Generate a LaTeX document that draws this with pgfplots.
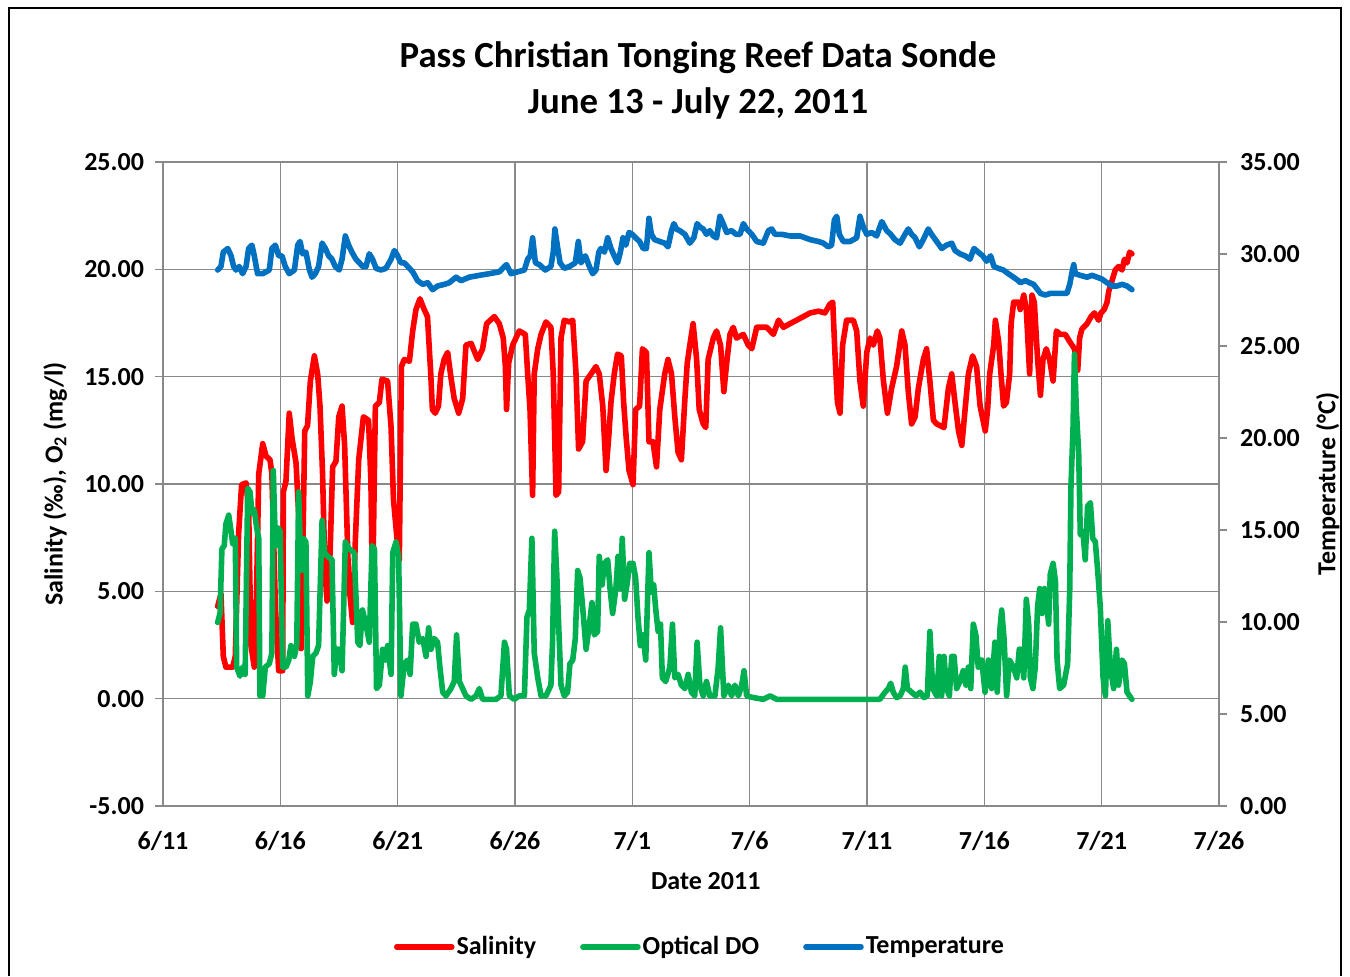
\documentclass[border=0pt]{standalone}
\usepackage{fontspec}
\setmainfont{Carlito}
\usepackage{pgfplots}
\pgfplotsset{compat=1.18}
\definecolor{sal}{RGB}{255,0,0}
\definecolor{dox}{RGB}{0,176,80}
\definecolor{tmp}{RGB}{0,112,192}
\definecolor{gridc}{RGB}{137,137,137}
\newcommand{\lblfont}{\fontsize{13}{15}\selectfont\bfseries}
\begin{document}
\begin{tikzpicture}
\path[use as bounding box] (0pt,0pt) rectangle (675pt,488pt);
\draw[line width=1.1pt] (4.5pt,0pt) -- (4.5pt,484pt) -- (670.5pt,484pt) -- (670.5pt,0pt);
\node[align=center,font=\fontsize{18.4}{23}\selectfont\bfseries] at (349pt,448pt) {Pass Christian Tonging Reef Data Sonde\\June 13 - July 22, 2011};
\begin{axis}[
  at={(81.5pt,85pt)}, anchor=south west,
  scale only axis, width=528pt, height=322pt,
  xmin=0, xmax=45, ymin=-5, ymax=25,
  xtick={0,5,...,45},
  xticklabels={6/11,6/16,6/21,6/26,7/1,7/6,7/11,7/16,7/21,7/26},
  ytick={-5,0,...,25},
  axis lines*=left,
  axis line style={gridc, line width=0.75pt},
  grid=major, major grid style={gridc, line width=0.75pt},
  tick align=outside, major tick length=4pt,
  tick style={gridc, line width=0.75pt},
  xtick style={draw=none},
  /pgf/number format/fixed, /pgf/number format/fixed zerofill, /pgf/number format/precision=2, /pgf/number format/assume math mode=true,
  ticklabel style={font=\lblfont},
  yticklabel style={xshift=-2pt},
  xticklabel style={yshift=-5pt},
  xlabel={Date 2011}, ylabel={Salinity (‰), O\textsubscript{2} (mg/l)},
  label style={font=\lblfont},
  xlabel style={at={(axis description cs:0.514,-0.117)}, anchor=center},
  ylabel style={at={(axis description cs:-0.102,0.5)}, anchor=center},
  legend columns=3,
  legend style={draw=none, at={(0.5085,-0.219)}, anchor=center, font=\lblfont,
    /tikz/every even column/.append style={column sep=21pt}, nodes={inner sep=1pt}},
  legend image code/.code={\draw[#1, line width=2.8pt] (0pt,0pt) -- (27.5pt,0pt);},
  every axis plot/.append style={line width=2.8pt, line join=round, line cap=round},
]
\addplot[sal] coordinates {
(2.33,4.3)(2.47,4.88)(2.57,1.97)(2.68,1.47)(2.97,1.47)(3.08,1.97)(3.22,7.63)(3.35,9.97)(3.54,10.05)(3.65,8.8)(3.75,2.47)(3.89,1.47)(3.99,5.13)(4.08,10.47)(4.25,11.88)(4.39,11.3)(4.56,11.13)(4.64,10.47)(4.79,4.3)(4.93,1.3)(5.1,1.3)(5.13,9.63)(5.24,10.13)(5.38,13.3)(5.5,12.13)(5.67,10.97)(5.78,8.63)(5.89,2.33)(6.04,12.47)(6.16,12.72)(6.28,14.8)(6.45,15.97)(6.59,15.13)(6.69,13.63)(6.8,10.47)(6.9,5.97)(6.99,4.55)(7.12,6.8)(7.23,10.8)(7.37,11.05)(7.49,13.13)(7.63,13.63)(7.74,11.8)(7.91,5.47)(8.08,3.55)(8.2,7.47)(8.34,11.13)(8.54,13.13)(8.76,12.97)(8.86,10.13)(8.93,4.8)(9.05,13.63)(9.22,13.8)(9.33,14.88)(9.57,14.8)(9.72,12.63)(9.82,9.3)(9.97,7.47)(10.07,6.47)(10.16,15.47)(10.28,15.8)(10.5,15.72)(10.64,17.13)(10.78,18.13)
(10.95,18.63)(11.13,18.13)(11.27,17.8)(11.41,15.13)(11.48,13.47)(11.6,13.3)(11.74,13.63)(11.84,15.13)(11.98,15.8)(12.13,16.13)(12.27,14.97)(12.41,13.97)(12.6,13.3)(12.77,13.97)(12.91,16.47)(13.13,16.55)(13.41,15.8)(13.62,16.3)(13.79,17.47)(14.12,17.8)(14.33,17.47)(14.5,16.8)(14.59,15.47)(14.64,13.47)(14.73,15.63)(14.9,16.47)(15.18,17.13)(15.44,16.97)(15.54,15.13)(15.64,13.47)(15.75,9.47)(15.82,15.13)(15.97,16.3)(16.11,16.97)(16.32,17.55)(16.53,17.3)(16.63,15.13)(16.75,9.47)(16.86,9.63)(16.96,16.8)(17.1,17.63)(17.32,17.55)(17.46,17.63)(17.6,15.13)(17.71,11.63)(17.88,11.97)(18.03,14.8)(18.24,15.13)(18.45,15.47)(18.59,15.13)(18.74,13.63)(18.88,10.63)(18.99,12.13)(19.09,13.8)(19.23,15.13)(19.37,16.05)
(19.53,15.97)(19.63,13.8)(19.74,12.13)(19.86,10.63)(20.03,9.97)(20.14,13.47)(20.31,13.63)(20.43,16.3)(20.6,16.13)(20.71,11.97)(20.88,11.97)(21.03,10.8)(21.17,13.47)(21.38,15.13)(21.52,15.8)(21.67,15.13)(21.81,13.13)(21.95,11.47)(22.09,11.13)(22.24,13.97)(22.34,15.63)(22.45,16.47)(22.59,17.47)(22.74,15.8)(22.85,13.47)(23.02,12.8)(23.13,12.63)(23.23,15.8)(23.45,16.8)(23.59,17.13)(23.76,16.47)(23.9,14.3)(24.02,15.63)(24.16,16.97)(24.3,17.3)(24.44,16.8)(24.73,16.97)(24.94,16.47)(25.09,16.3)(25.3,17.3)(25.73,17.3)(26.01,16.97)(26.23,17.63)(26.44,17.3)(26.72,17.47)(27.0,17.63)(27.29,17.8)(27.58,17.97)(27.93,18.05)
(28.21,17.97)(28.42,18.38)(28.54,18.47)(28.64,15.97)(28.74,13.8)(28.85,13.3)(28.96,16.47)(29.13,17.63)(29.42,17.63)(29.56,17.13)(29.7,14.8)(29.84,13.63)(29.99,16.13)(30.13,16.8)(30.27,16.47)(30.44,17.13)(30.55,16.8)(30.7,14.8)(30.87,13.3)(31.05,14.47)(31.26,15.47)(31.48,17.13)(31.62,16.47)(31.76,14.3)(31.9,12.8)(32.05,13.13)(32.19,14.47)(32.4,15.8)(32.54,16.3)(32.68,14.8)(32.83,12.97)(32.97,12.8)(33.11,12.72)(33.28,12.63)(33.47,14.47)(33.61,15.13)(33.75,13.8)(33.9,12.47)(34.04,11.8)(34.18,13.47)(34.32,15.13)(34.5,15.97)(34.67,15.47)(34.82,13.63)
(35.04,12.47)(35.14,13.47)(35.23,15.13)(35.4,16.47)(35.47,17.63)(35.61,16.63)(35.71,15.13)(35.82,13.63)(35.94,13.8)(36.08,15.13)(36.14,17.47)(36.25,18.47)(36.46,18.47)(36.53,18.13)(36.68,18.8)(36.79,18.13)(36.93,15.13)(37.03,18.8)(37.13,18.47)(37.27,15.8)(37.39,14.13)(37.5,15.8)(37.64,16.3)(37.78,15.8)(37.93,14.8)(38.07,17.13)(38.24,16.97)(38.45,16.97)(38.64,16.63)(38.84,16.3)(38.98,15.3)(39.06,16.8)(39.16,17.22)(39.38,17.47)(39.55,17.8)(39.69,17.97)(39.87,17.63)(39.97,17.97)(40.11,18.13)(40.23,18.47)(40.3,18.97)(40.44,19.47)(40.58,19.97)(40.72,20.13)(40.87,19.97)(40.97,20.47)(41.08,20.3)(41.19,20.8)(41.29,20.72)
};
\addlegendentry{Salinity}
\addplot[dox] coordinates {
(2.33,3.55)(2.43,3.97)(2.51,6.97)(2.61,7.13)(2.68,8.13)(2.8,8.55)(2.9,7.8)(2.97,7.22)(3.08,7.47)(3.14,1.47)(3.28,1.05)(3.39,1.47)(3.5,1.13)(3.61,9.8)(3.71,9.63)(3.79,8.63)(3.89,8.8)(3.99,7.97)(4.08,7.47)(4.13,0.13)(4.25,0.13)(4.36,1.47)(4.53,1.63)(4.64,2.13)(4.7,10.63)(4.79,7.13)(4.89,7.97)(4.99,7.8)(5.1,1.47)(5.24,1.47)(5.36,1.8)(5.45,2.47)(5.6,1.97)(5.7,2.47)(5.78,9.63)(5.88,5.97)(5.98,7.47)(6.09,7.3)(6.17,0.13)(6.28,0.8)(6.38,1.97)(6.52,2.13)(6.63,2.47)(6.78,8.3)(6.88,6.8)(7.02,6.63)(7.2,6.47)(7.3,1.13)(7.4,2.3)(7.51,2.3)(7.63,1.3)(7.77,7.3)(7.94,6.97)(8.15,6.8)(8.3,2.63)(8.39,2.47)(8.5,4.13)(8.65,3.47)(8.79,2.63)(8.91,7.13)(9.01,6.97)(9.1,0.47)(9.22,0.63)(9.36,2.3)(9.47,1.8)(9.57,2.47)(9.72,1.13)(9.79,6.8)(9.93,7.3)(10.04,6.63)(10.14,0.13)(10.28,1.63)(10.43,1.8)(10.53,1.13)(10.64,3.47)(10.78,3.47)
(10.92,2.63)(11.07,2.8)(11.21,1.97)(11.32,3.3)(11.42,2.3)(11.56,2.8)(11.7,2.63)(11.8,1.47)(11.92,0.3)(12.06,0.13)(12.27,0.47)(12.41,0.8)(12.51,2.97)(12.63,0.8)(12.77,0.47)(12.91,0.13)(13.13,-0.03)(13.34,0.13)(13.48,0.47)(13.62,-0.03)(13.91,-0.03)(14.19,-0.03)(14.4,0.13)(14.55,2.63)(14.64,2.3)(14.76,0.13)(14.97,-0.03)(15.18,0.13)(15.4,0.13)(15.51,3.8)(15.61,4.13)(15.72,7.47)(15.82,2.13)(15.97,0.97)(16.11,0.13)(16.32,0.13)(16.53,0.63)(16.6,2.63)(16.69,7.8)(16.78,5.8)(16.86,3.47)(16.96,0.63)(17.1,0.13)(17.24,0.3)(17.34,1.63)(17.46,1.8)(17.57,2.8)(17.67,5.97)(17.77,5.63)(17.88,4.3)(18.03,2.3)(18.17,3.47)(18.28,4.47)(18.38,2.97)(18.52,3.13)(18.59,6.63)(18.71,5.3)(18.81,6.3)(18.95,6.47)(19.05,5.13)(19.16,3.97)(19.3,5.13)
(19.39,6.63)(19.49,5.13)(19.57,7.47)(19.67,4.63)(19.77,5.3)(19.89,6.3)(20.03,6.3)(20.14,5.63)(20.24,3.8)(20.34,2.47)(20.46,2.97)(20.57,1.8)(20.71,6.8)(20.81,4.97)(20.91,5.3)(21.0,4.13)(21.1,3.13)(21.2,3.47)(21.28,0.97)(21.42,0.8)(21.6,1.47)(21.71,3.47)(21.81,0.97)(21.95,1.13)(22.09,0.63)(22.24,0.47)(22.38,1.13)(22.52,0.3)(22.66,0.13)(22.76,2.63)(22.88,0.63)(23.02,0.13)(23.16,0.8)(23.3,0.13)(23.52,0.13)(23.66,1.47)(23.76,3.3)(23.9,0.13)(24.09,0.63)(24.23,0.13)(24.37,0.63)(24.52,0.13)(24.66,0.63)(24.76,1.3)(24.87,0.13)(25.16,0.05)(25.58,-0.03)(25.87,0.13)(26.15,-0.03)(28.0,-0.03)(30.55,-0.03)
(30.77,0.3)(30.91,0.47)(31.01,0.72)(31.12,0.3)(31.26,0.05)(31.41,0.13)(31.55,0.47)(31.63,1.47)(31.72,0.47)(31.9,0.3)(32.09,0.13)(32.26,0.3)(32.43,0.05)(32.57,0.13)(32.68,3.13)(32.8,0.47)(32.97,0.13)(33.08,1.97)(33.18,0.13)(33.28,1.97)(33.39,0.47)(33.51,0.13)(33.61,1.97)(33.71,1.97)(33.82,0.47)(33.96,0.8)(34.1,1.3)(34.22,0.63)(34.32,1.47)(34.42,0.47)(34.53,3.47)(34.64,2.97)(34.74,1.47)(34.89,1.8)(35.03,0.3)(35.17,1.8)(35.31,0.47)(35.45,2.63)(35.55,0.3)(35.67,3.3)(35.74,4.13)(35.84,2.8)(35.95,0.13)(36.07,1.8)(36.24,1.47)(36.38,0.97)
(36.49,2.3)(36.56,2.3)(36.68,0.97)(36.79,4.63)(36.89,3.47)(36.96,0.97)(37.07,0.47)(37.17,1.47)(37.27,4.3)(37.36,5.13)(37.46,3.97)(37.56,5.13)(37.67,4.3)(37.74,3.47)(37.81,5.8)(37.93,6.3)(38.03,5.47)(38.1,1.8)(38.21,0.47)(38.38,0.63)(38.55,1.63)(38.64,5.13)(38.69,9.8)(38.78,12.63)(38.84,16.05)(38.92,13.47)(39.02,11.47)(39.09,7.63)(39.2,7.8)(39.3,6.47)(39.4,8.97)(39.52,9.13)(39.62,7.47)(39.73,7.3)(39.83,5.97)(39.94,4.3)(40.06,0.97)(40.16,0.13)(40.26,3.63)(40.37,1.47)(40.51,0.47)(40.63,2.3)(40.72,0.63)(40.87,1.8)(40.97,1.63)(41.08,0.3)(41.29,-0.03)
};
\addlegendentry{Optical DO}
\addlegendimage{tmp}
\addlegendentry{Temperature}
\end{axis}
\begin{axis}[
  at={(81.5pt,85pt)}, anchor=south west,
  scale only axis, width=528pt, height=322pt,
  xmin=0, xmax=45, ymin=0, ymax=35,
  ytick={0,5,...,35},
  axis x line=none, axis y line*=right,
  axis line style={gridc, line width=0.75pt},
  tick align=outside, major tick length=4pt,
  tick style={gridc, line width=0.75pt},
  /pgf/number format/fixed, /pgf/number format/fixed zerofill, /pgf/number format/precision=2, /pgf/number format/assume math mode=true,
  ticklabel style={font=\lblfont},
  yticklabel style={xshift=3pt},
  ylabel={Temperature (°C)},
  label style={font=\lblfont},
  ylabel style={at={(axis description cs:1.103,0.5)}, anchor=center},
  every axis plot/.append style={line width=2.8pt, line join=round, line cap=round},
]
\addplot[tmp] coordinates {
(2.33,29.13)(2.47,29.32)(2.57,30.10)(2.76,30.30)(2.9,29.90)(3.01,29.32)(3.11,29.13)(3.25,29.32)(3.39,28.93)(3.54,29.32)(3.65,30.30)(3.79,30.48)(3.89,29.90)(4.03,28.93)(4.25,28.93)(4.53,29.13)(4.64,30.30)(4.79,30.48)(4.93,29.90)(5.07,29.90)(5.21,29.32)(5.38,28.93)(5.6,29.13)(5.74,30.48)(5.84,30.68)(5.95,30.01)(6.09,30.10)(6.24,29.13)(6.35,28.74)(6.49,28.93)(6.63,29.32)(6.78,30.59)(6.92,30.30)(7.06,29.90)(7.2,29.72)(7.34,29.32)(7.51,29.13)(7.63,29.72)(7.77,30.98)(7.91,30.48)(8.05,30.10)(8.22,29.72)(8.37,29.52)(8.51,29.32)(8.65,29.32)(8.79,30.01)(8.93,29.72)(9.08,29.22)(9.29,29.13)(9.5,29.22)(9.72,29.72)(9.86,30.19)(10.0,29.90)(10.14,29.52)(10.28,29.52)(10.43,29.32)(10.64,29.03)(10.85,28.55)
(11.07,28.35)(11.28,28.44)(11.49,28.06)(11.7,28.26)(11.99,28.35)(12.2,28.44)(12.49,28.74)(12.7,28.55)(13.05,28.74)(13.48,28.84)(13.91,28.93)(14.33,29.03)(14.55,29.32)(14.64,29.42)(14.83,28.93)(15.11,29.03)(15.4,29.13)(15.54,29.72)(15.65,29.90)(15.75,30.88)(15.87,29.52)(16.04,29.42)(16.29,29.13)(16.53,29.32)(16.63,30.10)(16.7,31.36)(16.8,30.48)(16.92,29.52)(17.1,29.22)(17.32,29.32)(17.57,29.52)(17.7,30.68)(17.81,29.52)(18.0,29.90)(18.17,29.32)(18.31,28.93)(18.45,29.13)(18.57,30.10)(18.66,30.30)(18.81,30.10)(18.95,30.88)(19.09,30.30)(19.23,29.90)(19.37,29.52)
(19.49,30.10)(19.6,30.88)(19.72,30.48)(19.86,31.17)(20.0,31.07)(20.14,30.88)(20.31,30.68)(20.46,30.30)(20.6,30.30)(20.71,31.94)(20.81,31.07)(20.95,30.78)(21.17,30.68)(21.38,30.59)(21.52,30.39)(21.67,31.27)(21.77,31.65)(21.88,31.36)(22.02,31.27)(22.24,31.07)(22.45,30.59)(22.62,30.88)(22.76,31.65)(22.88,31.47)(23.02,31.36)(23.16,31.07)(23.3,31.27)(23.45,30.98)(23.59,30.88)(23.73,32.05)(23.87,31.65)(24.02,31.17)(24.23,31.27)(24.42,31.07)(24.59,31.07)(24.73,31.65)(24.87,31.36)(25.09,31.07)(25.3,30.68)(25.58,30.59)(25.8,31.27)(25.94,31.36)(26.08,31.07)(26.37,31.07)(26.72,30.98)(27.15,30.98)(27.58,30.78)(27.93,30.68)
(28.14,30.59)(28.35,30.39)(28.49,30.48)(28.61,31.85)(28.71,32.05)(28.82,31.07)(28.99,30.68)(29.28,30.68)(29.56,30.88)(29.7,32.05)(29.84,31.47)(29.99,31.07)(30.2,31.17)(30.41,30.98)(30.63,31.76)(30.84,31.27)(31.01,31.07)(31.19,30.78)(31.41,30.59)(31.62,31.07)(31.76,31.36)(31.9,31.07)(32.05,30.88)(32.23,30.39)(32.4,30.78)(32.61,31.36)(32.75,31.07)(32.97,30.68)(33.18,30.30)(33.39,30.48)(33.61,30.59)(33.75,30.19)(33.96,30.01)(34.18,29.90)(34.39,29.72)(34.56,30.30)(34.74,30.10)(34.93,29.90)(35.1,29.61)(35.27,29.90)(35.41,29.32)(35.6,29.22)(35.81,29.13)(36.02,28.93)(36.24,28.74)(36.45,28.55)
(36.53,28.44)(36.75,28.55)(36.93,28.44)(37.1,28.35)(37.22,28.15)(37.39,27.86)(37.6,27.77)(37.81,27.86)(38.1,27.86)(38.52,27.86)(38.64,28.35)(38.74,29.03)(38.81,29.42)(38.88,28.93)(39.09,28.84)(39.38,28.74)(39.59,28.84)(39.8,28.74)(40.01,28.64)(40.23,28.44)(40.44,28.26)(40.65,28.26)(40.87,28.35)(41.08,28.26)(41.29,28.06)
};
\end{axis}
\end{tikzpicture}
\end{document}
